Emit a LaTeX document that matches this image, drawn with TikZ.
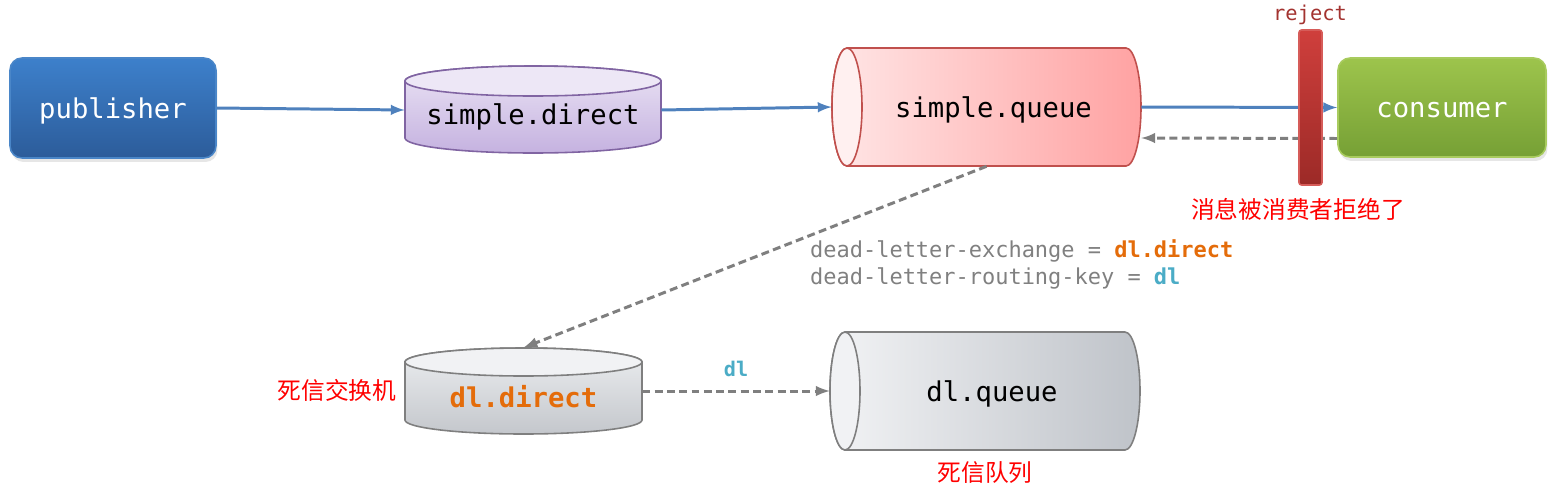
\documentclass[tikz,border=0pt]{standalone}
\usepackage{fontspec}
\setmonofont{DejaVu Sans Mono}
\newfontfamily\cjk{Noto Sans CJK SC}
\usetikzlibrary{arrows}
\usetikzlibrary{positioning}
\usetikzlibrary{shadows}

\definecolor{pubTop}{HTML}{3D80CB}
\definecolor{pubBot}{HTML}{2C5C9A}
\definecolor{pubLine}{HTML}{4A86C8}
\definecolor{conTop}{HTML}{9DC44C}
\definecolor{conBot}{HTML}{76A035}
\definecolor{conLine}{HTML}{A8CB5E}
\definecolor{sdTop}{HTML}{EAE3F4}
\definecolor{sdBot}{HTML}{C5B2E0}
\definecolor{sdFace}{HTML}{EDE7F6}
\definecolor{sdLine}{HTML}{8064A2}
\definecolor{sqLeft}{HTML}{FFE6E6}
\definecolor{sqRight}{HTML}{FFA2A2}
\definecolor{sqFace}{HTML}{FFF0F0}
\definecolor{sqLine}{HTML}{C0504D}
\definecolor{dlTop}{HTML}{ECEEF0}
\definecolor{dlBot}{HTML}{C4C7CC}
\definecolor{dlLeft}{HTML}{F2F3F5}
\definecolor{dlRight}{HTML}{BFC3C9}
\definecolor{dlFace}{HTML}{F1F2F4}
\definecolor{dlLine}{HTML}{7F7F7F}
\definecolor{rejTop}{HTML}{CF3F3C}
\definecolor{rejBot}{HTML}{9C2A27}
\definecolor{rejText}{HTML}{A33330}
\definecolor{flowBlue}{HTML}{4F81BD}
\definecolor{backGray}{HTML}{7F7F7F}
\definecolor{codeGray}{HTML}{808080}
\definecolor{dlOrange}{HTML}{E46C0A}
\definecolor{dlCyan}{HTML}{4BACC6}

\tikzstyle{normalLine}=[line width=1.7pt]
\tikzstyle{thinLine}=[line width=.9pt]
\tikzstyle{Label}=[font=\ttfamily\fontsize{15.5}{18}\selectfont,text height=.45cm,text depth=.05cm]
\tikzstyle{Box}=[Label,rounded corners=.24cm,minimum width=4.12cm,minimum height=2cm,thinLine,text=white,drop shadow={opacity=.2,shadow xshift=.03cm,shadow yshift=-.08cm}]
\tikzstyle{Flow}=[>=latex,normalLine,draw=flowBlue,->]
\tikzstyle{Back}=[>=latex,normalLine,draw=backGray,dash pattern=on 4.5pt off 2.5pt,->]
\tikzstyle{Code}=[font=\ttfamily\fontsize{12.5}{15.3}\selectfont,text=codeGray]
\tikzstyle{Note}=[font=\cjk\fontsize{13.5}{16}\selectfont,text=red]

\begin{document}
\begin{tikzpicture}[x=.02cm,y=-.02cm]

  \useasboundingbox (0,0) rectangle (1552,491);

  % Cylinders
  % ---------

  % simple.direct
  \shadedraw[top color=sdTop,bottom color=sdBot,draw=sdLine,thinLine]
    (405,81) -- (405,138) arc[start angle=180,end angle=0,x radius=128,y radius=15]
    -- (661,81) arc[start angle=0,end angle=-180,x radius=128,y radius=15] -- cycle;
  \filldraw[fill=sdFace,draw=sdLine,thinLine] (533,81) ellipse [x radius=128,y radius=15];

  % simple.queue
  \shadedraw[left color=sqLeft,right color=sqRight,draw=sqLine,thinLine]
    (847,48) -- (1126,48) arc[start angle=-90,end angle=90,x radius=15,y radius=59]
    -- (847,166) arc[start angle=90,end angle=270,x radius=15,y radius=59] -- cycle;
  \filldraw[fill=sqFace,draw=sqLine,thinLine] (847,107) ellipse [x radius=15,y radius=59];

  % dl.direct
  \shadedraw[top color=dlTop,bottom color=dlBot,draw=dlLine,thinLine]
    (405,362) -- (405,420) arc[start angle=180,end angle=0,x radius=118.5,y radius=14]
    -- (642,362) arc[start angle=0,end angle=-180,x radius=118.5,y radius=14] -- cycle;
  \filldraw[fill=dlFace,draw=dlLine,thinLine] (523.5,362) ellipse [x radius=118.5,y radius=14];

  % dl.queue
  \shadedraw[left color=dlLeft,right color=dlRight,draw=dlLine,thinLine]
    (845,332) -- (1125,332) arc[start angle=-90,end angle=90,x radius=15,y radius=59]
    -- (845,450) arc[start angle=90,end angle=270,x radius=15,y radius=59] -- cycle;
  \filldraw[fill=dlFace,draw=dlLine,thinLine] (845,391) ellipse [x radius=15,y radius=59];

  % Nodes
  % -----
  \node[Box,top color=pubTop,bottom color=pubBot,draw=pubLine] (publisher) at (113,108) {publisher};
  \node[Box,top color=conTop,bottom color=conBot,draw=conLine,minimum width=4.16cm,minimum height=1.98cm] (consumer) at (1442,107.5) {consumer};
  \node[minimum width=5.12cm,minimum height=1.74cm,
        label={[Label,yshift=-.08cm]center:simple.direct}] (simpleDirect) at (533,110) {};
  \node[minimum width=6.18cm,minimum height=2.36cm,
        label={[Label,xshift=.14cm]center:simple.queue}] (simpleQueue) at (986.5,107) {};
  \node[minimum width=4.74cm,minimum height=1.72cm,
        label={[Label,font=\ttfamily\bfseries\fontsize{15.5}{18}\selectfont,text=dlOrange,yshift=-.12cm]center:dl.direct}] (dlDirect) at (523.5,391) {};
  \node[minimum width=6.2cm,minimum height=2.36cm,
        label={[Label,xshift=.14cm]center:dl.queue}] (dlQueue) at (985,391) {};

  % Arrows
  % ------
  \draw[Flow] (publisher.east) -- (simpleDirect.west);
  \draw[Flow] (simpleDirect.east) -- (simpleQueue.west);
  \draw[Flow] (simpleQueue.east) -- (consumer.west);
  \draw[Back] ([yshift=-.62cm]consumer.west) -- ([yshift=-.62cm]simpleQueue.east);
  \draw[Back] (simpleQueue.south) -- (dlDirect.north);
  \draw[Back] (dlDirect.east) -- (dlQueue.west)
    node [above=4pt,midway,font=\ttfamily\bfseries\fontsize{11.5}{14}\selectfont,text=dlCyan] {dl};

  % Reject
  \node[top color=rejTop,bottom color=rejBot,draw=rejTop!85!white,thinLine,rounded corners=.05cm,
        minimum width=.46cm,minimum height=3.1cm,inner sep=0pt] (rejectBar) at (1310.5,107.5) {};
  \node[font=\ttfamily\fontsize{11.6}{14}\selectfont,text=rejText] (rejectText) at (1310,15) {reject};

  % Comment
  \node[Code,anchor=west,align=left] (dlArgs) at (804,264)
    {dead-letter-exchange = {\bfseries\color{dlOrange}dl.direct}\\dead-letter-routing-key = {\bfseries\color{dlCyan}dl}};
  \node[Note] (rejectNote) at (1298,209) {消息被消费者拒绝了};
  \node[Note] (exchangeNote) at (337,390) {死信交换机};
  \node[Note] (queueNote) at (985,473) {死信队列};

\end{tikzpicture}
\end{document}
